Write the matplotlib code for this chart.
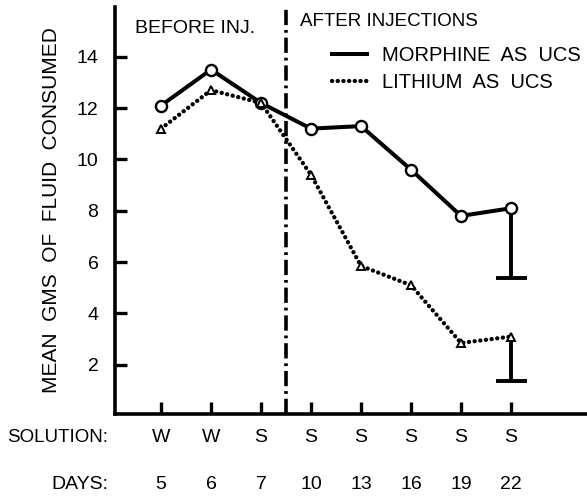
import numpy as np
import matplotlib
matplotlib.use('Agg')
import matplotlib.pyplot as plt
from matplotlib.lines import Line2D

plt.rcParams['font.family'] = ['Liberation Sans', 'DejaVu Sans']
plt.rcParams['lines.scale_dashes'] = False

# data
solution = ['W', 'W', 'S', 'S', 'S', 'S', 'S', 'S']
days = ['5', '6', '7', '10', '13', '16', '19', '22']
morphine = [12.1, 13.5, 12.2, 11.2, 11.3, 9.6, 7.8, 8.1]
lithium = [11.2, 12.7, 12.2, 9.4, 5.85, 5.1, 2.85, 3.1]
morphine_err_low = [5.4]
lithium_err_low = [1.35]
err_idx = [7]
injection_at = 3.5

x = np.arange(1, len(days) + 1)

fig = plt.figure(figsize=(5.87, 4.98), dpi=100)
ax = fig.add_axes([0.196, 0.169, 0.804, 0.817])

dots = (0, (0.1, 4.0))
lm, = ax.plot(x, morphine, color='black', lw=2.9, marker='o', ms=8,
              mfc='white', mec='black', mew=1.7, zorder=3)
ll, = ax.plot(x, lithium, color='black', lw=3.1, ls=dots,
              dash_capstyle='round', marker='^', ms=6, mfc='white',
              mec='black', mew=1.4, zorder=3)

# error bars (lower only)
for i, lo in zip(err_idx, morphine_err_low):
    ax.vlines(x[i], lo, morphine[i], color='black', lw=2.8)
    ax.hlines(lo, x[i] - 0.31, x[i] + 0.31, color='black', lw=2.8)
for i, lo in zip(err_idx, lithium_err_low):
    ax.vlines(x[i], lo, lithium[i], color='black', lw=2.8)
    ax.hlines(lo, x[i] - 0.31, x[i] + 0.31, color='black', lw=2.8)

vl = ax.axvline(injection_at, color='black', lw=2.6)
vl.set_dashes([11, 3.5, 2, 3.5])

ax.set_xlim(0.08, 9.52)
ax.set_ylim(0.09, 15.94)
ax.set_yticks([2, 4, 6, 8, 10, 12, 14])
ax.set_xticks(x)
ax.set_xticklabels([])
ax.tick_params(axis='y', direction='in', length=8.5, width=2.4, pad=12,
               labelsize=14)
ax.tick_params(axis='x', direction='in', length=8.5, width=2.4)
for s in ['top', 'right']:
    ax.spines[s].set_visible(False)
for s in ['left', 'bottom']:
    ax.spines[s].set_linewidth(2.6)

ax.set_ylabel('MEAN  GMS  OF  FLUID  CONSUMED', fontsize=15, labelpad=11)

tr = ax.get_xaxis_transform()
for xi, s, d in zip(x, solution, days):
    ax.text(xi, -0.057, s, transform=tr, ha='center', va='center',
            fontsize=14, clip_on=False)
    ax.text(xi, -0.174, d, transform=tr, ha='center', va='center',
            fontsize=14, clip_on=False)
ax.text(-0.06, -0.057, 'SOLUTION:', transform=tr, ha='right', va='center',
        fontsize=13.5, clip_on=False)
ax.text(-0.06, -0.174, 'DAYS:', transform=tr, ha='right', va='center',
        fontsize=14, clip_on=False)

ax.text(0.48, 15.1, 'BEFORE INJ.', ha='left', va='center', fontsize=14)
ax.text(3.78, 15.36, 'AFTER INJECTIONS', ha='left', va='center', fontsize=13.5)

ax.legend([Line2D([], [], color='black', lw=2.9),
           Line2D([], [], color='black', lw=3.1, ls=dots,
                  dash_capstyle='round')],
          ['MORPHINE  AS  UCS', 'LITHIUM  AS  UCS'],
          loc='upper left', bbox_to_anchor=(0.46, 0.905), frameon=False,
          borderpad=0, borderaxespad=0, handlelength=1.75, handletextpad=0.75,
          labelspacing=0.4, fontsize=14.5)

fig.savefig('out.png', dpi=100)
